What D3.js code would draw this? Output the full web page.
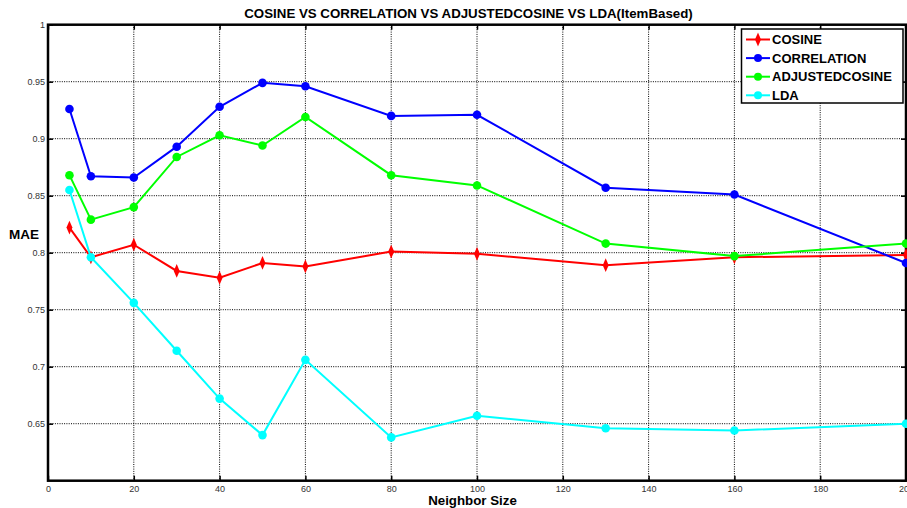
<!DOCTYPE html>
<html>
<head>
<meta charset="utf-8">
<script src="https://cdn.jsdelivr.net/npm/d3@7"></script>
<style>
  body { margin: 0; background: #fff; }
  text { font-family: Arial, "Liberation Sans", sans-serif; }
</style>
</head>
<body>
<div id="viz"></div>
<script>
"use strict";

var w = 907;
var h = 508;

// neighbour sizes on the x axis
var neighborSizes = [5, 10, 20, 30, 40, 50, 60, 80, 100, 130, 160, 200];

var cosine         = [0.822, 0.796, 0.807, 0.784, 0.778, 0.791, 0.788, 0.801, 0.799, 0.789, 0.796, 0.798];
var correlation    = [0.926, 0.867, 0.866, 0.893, 0.928, 0.949, 0.946, 0.920, 0.921, 0.857, 0.851, 0.791];
var adjustedCosine = [0.868, 0.829, 0.840, 0.884, 0.903, 0.894, 0.919, 0.868, 0.859, 0.808, 0.797, 0.808];
var lda            = [0.855, 0.796, 0.756, 0.714, 0.672, 0.640, 0.706, 0.638, 0.657, 0.646, 0.644, 0.650];

var seriesNames  = ["COSINE", "CORRELATION", "ADJUSTEDCOSINE", "LDA"];
var seriesColors = ["#ff0000", "#0000ff", "#00ff00", "#00ffff"];
var seriesData   = [cosine, correlation, adjustedCosine, lda];

var xTicks = [0, 20, 40, 60, 80, 100, 120, 140, 160, 180, 200];
var yTicks = [0.6, 0.65, 0.7, 0.75, 0.8, 0.85, 0.9, 0.95, 1];

var plotLeft = 48, plotRight = 906, plotTop = 24.7, plotBottom = 480.7;

var svg = d3.select("#viz")
  .append("svg")
  .attr("width", w)
  .attr("height", h);

var x = d3.scaleLinear().domain([0, 200]).range([plotLeft, plotRight]);
var y = d3.scaleLinear().domain([0.6, 1]).range([plotBottom, plotTop]);

// grid lines
var grid = svg.append("g").attr("class", "grid");
grid.selectAll("line.vx")
  .data(xTicks.slice(1, -1)).enter()
  .append("line")
  .attr("x1", function(d) { return x(d); })
  .attr("x2", function(d) { return x(d); })
  .attr("y1", plotTop)
  .attr("y2", plotBottom)
  .attr("stroke", "#000")
  .attr("stroke-width", 1)
  .attr("stroke-dasharray", "1,1.3");
grid.selectAll("line.hy")
  .data(yTicks.slice(1, -1)).enter()
  .append("line")
  .attr("x1", plotLeft)
  .attr("x2", plotRight)
  .attr("y1", function(d) { return y(d); })
  .attr("y2", function(d) { return y(d); })
  .attr("stroke", "#000")
  .attr("stroke-width", 1)
  .attr("stroke-dasharray", "1,1.3");

// axes (ticks inside, matlab style)
var xAxis = d3.axisBottom(x).tickValues(xTicks).tickSize(-5).tickPadding(5)
  .tickFormat(d3.format("d"));
var xAxisTop = d3.axisTop(x).tickValues(xTicks).tickSize(-5).tickFormat("");
var yAxis = d3.axisLeft(y).tickValues(yTicks.slice(1)).tickSize(-5).tickPadding(3)
  .tickFormat(function(d) { return String(+d.toFixed(2)); });
var yAxisRight = d3.axisRight(y).tickValues(yTicks).tickSize(-5).tickFormat("");

function styleAxis(g) {
  g.select(".domain").remove();
  g.selectAll(".tick line").attr("stroke", "#000").attr("stroke-width", 1.5);
  g.selectAll(".tick text")
    .attr("fill", "#333")
    .style("font-size", "9px")
    .style("font-family", "Arial, 'Liberation Sans', sans-serif");
}

svg.append("g").attr("transform", "translate(0," + plotBottom + ")").call(xAxis).call(styleAxis);
svg.append("g").attr("transform", "translate(0," + plotTop + ")").call(xAxisTop).call(styleAxis);
svg.append("g").attr("transform", "translate(" + plotLeft + ",0)").call(yAxis).call(styleAxis);
svg.append("g").attr("transform", "translate(" + plotRight + ",0)").call(yAxisRight).call(styleAxis);

// frame
svg.append("rect")
  .attr("x", plotLeft)
  .attr("y", plotTop)
  .attr("width", plotRight - plotLeft)
  .attr("height", plotBottom - plotTop)
  .attr("fill", "none")
  .attr("stroke", "#000")
  .attr("stroke-width", 2.5);

// series
var line = d3.line()
  .x(function(d) { return x(d[0]); })
  .y(function(d) { return y(d[1]); });

var diamond = d3.symbol().type(d3.symbolDiamond).size(38);

seriesData.forEach(function(vals, i) {
  var pts = neighborSizes.map(function(n, j) { return [n, vals[j]]; });
  var g = svg.append("g");
  g.append("path")
    .datum(pts)
    .attr("d", line)
    .attr("fill", "none")
    .attr("stroke", seriesColors[i])
    .attr("stroke-width", 2);
  if (i === 0) {
    g.selectAll("path.marker")
      .data(pts).enter()
      .append("path")
      .attr("class", "marker")
      .attr("d", diamond)
      .attr("transform", function(d) { return "translate(" + x(d[0]) + "," + y(d[1]) + ") scale(0.9,1.2)"; })
      .attr("fill", seriesColors[i]);
  } else {
    g.selectAll("circle.marker")
      .data(pts).enter()
      .append("circle")
      .attr("class", "marker")
      .attr("cx", function(d) { return x(d[0]); })
      .attr("cy", function(d) { return y(d[1]); })
      .attr("r", 4.3)
      .attr("fill", seriesColors[i]);
  }
});

// legend
var legend = svg.append("g");
legend.append("rect")
  .attr("x", 741.5)
  .attr("y", 29)
  .attr("width", 161.5)
  .attr("height", 74)
  .attr("fill", "#fff")
  .attr("stroke", "#000")
  .attr("stroke-width", 1.5);

seriesNames.forEach(function(name, i) {
  var cy = 39.5 + i * 18.6;
  legend.append("line")
    .attr("x1", 746).attr("x2", 770)
    .attr("y1", cy).attr("y2", cy)
    .attr("stroke", seriesColors[i])
    .attr("stroke-width", 2);
  if (i === 0) {
    legend.append("path")
      .attr("d", diamond)
      .attr("transform", "translate(758," + cy + ") scale(0.9,1.2)")
      .attr("fill", seriesColors[i]);
  } else {
    legend.append("circle")
      .attr("cx", 758).attr("cy", cy).attr("r", 4)
      .attr("fill", seriesColors[i]);
  }
  legend.append("text")
    .attr("x", 772)
    .attr("y", cy + 4.5)
    .style("font-size", "13px")
    .style("font-weight", "bold")
    .text(name);
});

// titles
svg.append("text")
  .attr("x", 468.5)
  .attr("y", 18)
  .attr("text-anchor", "middle")
  .style("font-size", "13.3px")
  .style("font-weight", "bold")
  .text("COSINE VS CORRELATION VS ADJUSTEDCOSINE VS LDA(ItemBased)");

svg.append("text")
  .attr("x", 472.5)
  .attr("y", 505)
  .attr("text-anchor", "middle")
  .style("font-size", "13.3px")
  .style("font-weight", "bold")
  .text("Neighbor Size");

svg.append("text")
  .attr("x", 9)
  .attr("y", 238.5)
  .style("font-size", "13.5px")
  .style("font-weight", "bold")
  .text("MAE");
</script>
</body>
</html>
